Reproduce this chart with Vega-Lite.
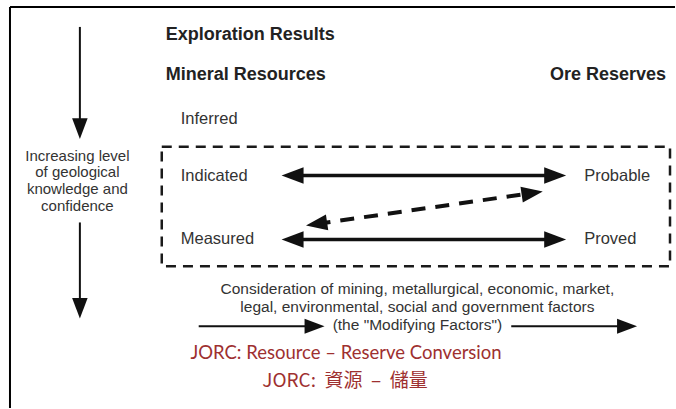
{
  "$schema": "https://vega.github.io/schema/vega-lite/v6.json",
  "width": 676,
  "height": 409,
  "autosize": {"type": "fit", "contains": "padding"},
  "padding": 0,
  "background": "white",
  "config": {"view": {"stroke": null}, "axis": {"disable": true}},
  "datasets": {
    "lines": [
      {"grp": "frame", "x": 10, "y": 7, "x2": 676, "y2": 7},
      {"grp": "frame", "x": 10, "y": 7, "x2": 10, "y2": 409},
      {"grp": "thick", "x": 290, "y": 176, "x2": 556, "y2": 176},
      {"grp": "thick", "x": 290, "y": 240, "x2": 556, "y2": 240},
      {"grp": "thin", "x": 80, "y": 27, "x2": 80, "y2": 128},
      {"grp": "thin", "x": 80, "y": 223, "x2": 80, "y2": 308},
      {"grp": "thin", "x": 199, "y": 327, "x2": 316, "y2": 327},
      {"grp": "thin", "x": 512, "y": 327, "x2": 629, "y2": 327},
      {"grp": "dash", "x": 317, "y": 224.5, "x2": 533, "y2": 193.5}
    ],
    "box": [{"x": 162, "y": 147, "x2": 671, "y2": 267}],
    "heads": [
      {"dir": "right", "grp": "big", "x": 556, "y": 176},
      {"dir": "left", "grp": "big", "x": 293, "y": 176},
      {"dir": "right", "grp": "big", "x": 556, "y": 240},
      {"dir": "left", "grp": "big", "x": 293, "y": 240},
      {"dir": "upright", "grp": "mid", "x": 533, "y": 193.5},
      {"dir": "downleft", "grp": "mid", "x": 317, "y": 224.5},
      {"dir": "down", "grp": "small", "x": 80, "y": 129},
      {"dir": "down", "grp": "small", "x": 80, "y": 309},
      {"dir": "right", "grp": "bottom", "x": 315, "y": 327},
      {"dir": "right", "grp": "bottom", "x": 628, "y": 327}
    ],
    "texts": [
      {"grp": "bold", "x": 166, "y": 35, "t": "Exploration Results"},
      {"grp": "bold", "x": 166, "y": 75, "t": "Mineral Resources"},
      {"grp": "boldr", "x": 667, "y": 75, "t": "Ore Reserves"},
      {"grp": "label", "x": 181, "y": 119, "t": "Inferred"},
      {"grp": "label", "x": 181, "y": 176, "t": "Indicated"},
      {"grp": "label", "x": 181, "y": 240, "t": "Measured"},
      {"grp": "label", "x": 585, "y": 176, "t": "Probable"},
      {"grp": "label", "x": 585, "y": 240, "t": "Proved"},
      {"grp": "side", "x": 77.5, "y": 156, "t": "Increasing level"},
      {"grp": "side", "x": 77.5, "y": 172.5, "t": "of geological"},
      {"grp": "side", "x": 77.5, "y": 189.5, "t": "knowledge and"},
      {"grp": "side", "x": 77.5, "y": 207, "t": "confidence"},
      {"grp": "note", "x": 418, "y": 290, "t": "Consideration of mining, metallurgical, economic, market,"},
      {"grp": "note", "x": 418, "y": 308, "t": "legal, environmental, social and government factors"},
      {"grp": "note", "x": 418, "y": 326, "t": "(the \"Modifying Factors\")"},
      {"grp": "red", "x": 346.5, "y": 354, "t": "JORC: Resource – Reserve Conversion"},
      {"grp": "redcjk", "x": 345.5, "y": 382, "t": "JORC:\u00a0\u00a0資源\u00a0\u00a0–\u00a0\u00a0儲量"}
    ]
  },
  "encoding": {
    "x": {"field": "x", "type": "quantitative", "scale": {"domain": [0, 676], "nice": false, "zero": false}},
    "y": {"field": "y", "type": "quantitative", "scale": {"domain": [0, 409], "nice": false, "zero": false, "reverse": true}}
  },
  "layer": [
    {
      "data": {"name": "box"},
      "mark": {"type": "rect", "fillOpacity": 0, "stroke": "#1a1a1a", "strokeWidth": 2.5, "strokeDash": [10, 7]},
      "encoding": {"x2": {"field": "x2"}, "y2": {"field": "y2"}}
    },
    {
      "data": {"name": "lines"},
      "transform": [{"filter": "datum.grp === 'frame'"}],
      "mark": {"type": "rule", "color": "#000000", "strokeWidth": 2},
      "encoding": {"x2": {"field": "x2"}, "y2": {"field": "y2"}}
    },
    {
      "data": {"name": "lines"},
      "transform": [{"filter": "datum.grp === 'thick'"}],
      "mark": {"type": "rule", "color": "#111111", "strokeWidth": 3.5},
      "encoding": {"x2": {"field": "x2"}, "y2": {"field": "y2"}}
    },
    {
      "data": {"name": "lines"},
      "transform": [{"filter": "datum.grp === 'thin'"}],
      "mark": {"type": "rule", "color": "#111111", "strokeWidth": 2},
      "encoding": {"x2": {"field": "x2"}, "y2": {"field": "y2"}}
    },
    {
      "data": {"name": "lines"},
      "transform": [{"filter": "datum.grp === 'dash'"}],
      "mark": {"type": "rule", "color": "#111111", "strokeWidth": 4, "strokeDash": [14, 10]},
      "encoding": {"x2": {"field": "x2"}, "y2": {"field": "y2"}}
    },
    {
      "data": {"name": "heads"},
      "mark": {"type": "point", "filled": true, "color": "#111111", "opacity": 1, "strokeWidth": 0},
      "encoding": {
        "shape": {"field": "dir", "type": "nominal", "legend": null, "scale": {
          "domain": ["right", "left", "down", "upright", "downleft"],
          "range": [
            "M-1,-0.75L1,0L-1,0.75Z",
            "M1,-0.75L-1,0L1,0.75Z",
            "M-0.75,-1L0,1L0.75,-1Z",
            "M-1.099,-0.596L0.989,-0.146L-0.88,0.888Z",
            "M0.88,-0.888L-0.989,0.146L1.099,0.596Z"
          ]}},
        "size": {"field": "grp", "type": "nominal", "legend": null, "scale": {
          "domain": ["big", "mid", "small", "bottom"],
          "range": [484, 400, 144, 196]}}
      }
    },
    {
      "data": {"name": "texts"},
      "transform": [{"filter": "datum.grp === 'bold'"}],
      "mark": {"type": "text", "align": "left", "baseline": "middle", "font": "Liberation Sans", "fontWeight": "bold", "fontSize": 18, "color": "#222222"},
      "encoding": {"text": {"field": "t"}}
    },
    {
      "data": {"name": "texts"},
      "transform": [{"filter": "datum.grp === 'boldr'"}],
      "mark": {"type": "text", "align": "right", "baseline": "middle", "font": "Liberation Sans", "fontWeight": "bold", "fontSize": 18, "color": "#222222"},
      "encoding": {"text": {"field": "t"}}
    },
    {
      "data": {"name": "texts"},
      "transform": [{"filter": "datum.grp === 'label'"}],
      "mark": {"type": "text", "align": "left", "baseline": "middle", "font": "Liberation Sans", "fontSize": 16.5, "color": "#333333"},
      "encoding": {"text": {"field": "t"}}
    },
    {
      "data": {"name": "texts"},
      "transform": [{"filter": "datum.grp === 'side'"}],
      "mark": {"type": "text", "align": "center", "baseline": "middle", "font": "Liberation Sans", "fontSize": 15, "color": "#333333"},
      "encoding": {"text": {"field": "t"}}
    },
    {
      "data": {"name": "texts"},
      "transform": [{"filter": "datum.grp === 'note'"}],
      "mark": {"type": "text", "align": "center", "baseline": "middle", "font": "Liberation Sans", "fontSize": 15.5, "color": "#333333"},
      "encoding": {"text": {"field": "t"}}
    },
    {
      "data": {"name": "texts"},
      "transform": [{"filter": "datum.grp === 'red'"}],
      "mark": {"type": "text", "align": "center", "baseline": "middle", "font": "Lato", "fontSize": 18.5, "color": "#9E3030"},
      "encoding": {"text": {"field": "t"}}
    },
    {
      "data": {"name": "texts"},
      "transform": [{"filter": "datum.grp === 'redcjk'"}],
      "mark": {"type": "text", "align": "center", "baseline": "middle", "font": "Noto Sans CJK TC", "fontSize": 19, "color": "#9E3030"},
      "encoding": {"text": {"field": "t"}}
    }
  ]
}
